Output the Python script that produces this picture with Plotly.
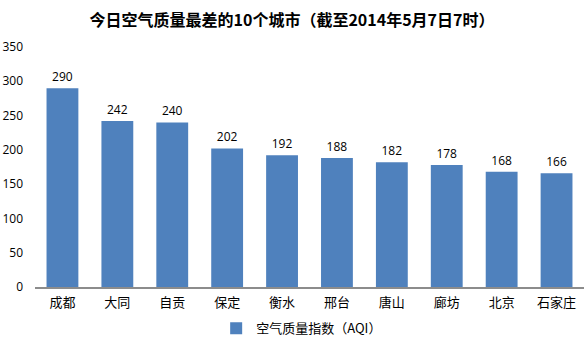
import plotly.graph_objects as go

cities = ["成都", "大同", "自贡", "保定", "衡水", "邢台", "唐山", "廊坊", "北京", "石家庄"]
aqi = [290, 242, 240, 202, 192, 188, 182, 178, 168, 166]
y_ticks = [0, 50, 100, 150, 200, 250, 300, 350]
title = "今日空气质量最差的10个城市（截至2014年5月7日7时）"
series_name = "空气质量指数（AQI）"

font_cjk = "Noto Sans CJK SC, Microsoft YaHei, sans-serif"

fig = go.Figure()
fig.add_trace(go.Bar(
    x=cities, y=aqi, name=series_name,
    marker=dict(color="#4F81BD", line=dict(width=0)),
    text=[str(v) for v in aqi], textposition="outside",
    textfont=dict(size=12, color="#000000", family="Open Sans, sans-serif"),
    cliponaxis=False,
    showlegend=True,
))

fig.update_layout(
    width=584, height=342,
    margin=dict(l=35, r=0, t=47, b=55, autoexpand=False),
    paper_bgcolor="white", plot_bgcolor="white",
    title=dict(text="<b>" + title + "</b>", x=0.5, xanchor="center", y=0.94, yanchor="middle",
               font=dict(size=16, color="#000000", family=font_cjk)),
    bargap=0.42,
    xaxis=dict(showline=True, linecolor="#8c8c8c", linewidth=1.5, ticks="",
               tickfont=dict(size=13, color="#000000", family=font_cjk), showgrid=False,
               ticklabelstandoff=3),
    yaxis=dict(range=[0, 350], tickvals=y_ticks, showgrid=False, zeroline=False, showline=False,
               tickfont=dict(size=12, color="#000000", family="Open Sans, sans-serif"),
               ticklabelstandoff=11),
    legend=dict(orientation="h", x=0.33, xanchor="left", yref="container", y=0.04, yanchor="middle",
                itemwidth=30, font=dict(size=13, color="#000000", family=font_cjk)),
)

fig.write_html("out.html")
